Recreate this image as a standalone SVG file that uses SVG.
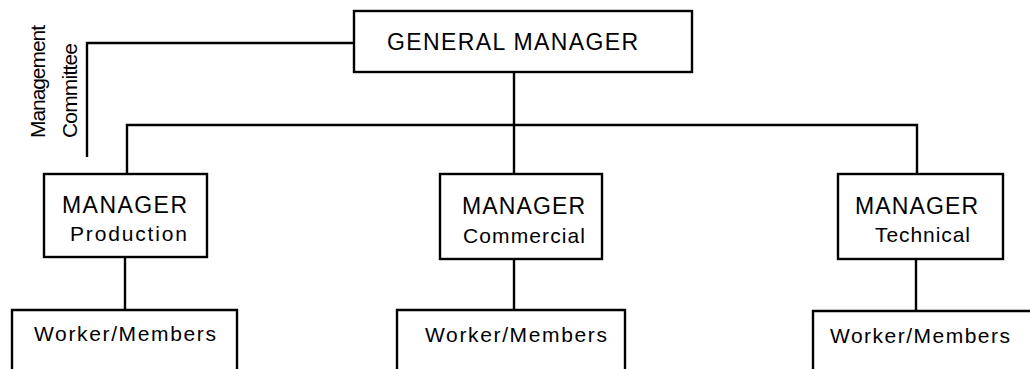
<svg xmlns="http://www.w3.org/2000/svg" width="1030" height="369" viewBox="0 0 1030 369">
  <style>
    .box { fill: none; stroke: #000; stroke-width: 2.4; }
    .link { fill: none; stroke: #000; stroke-width: 2.4; }
    text { font-family: "Liberation Sans", Arial, sans-serif; fill: #000; }
    .title { font-size: 23px; text-anchor: middle; }
    .sub { font-size: 21px; text-anchor: middle; }
    .side { font-size: 21px; }
  </style>
  <rect width="1030" height="369" fill="#fff"/>

  <!-- connectors -->
  <g id="connectors">
    <path class="link" d="M354,43 H87 V157"/>
    <path class="link" d="M514,72 V174"/>
    <path class="link" d="M127,174 V125 H917 V174"/>
    <path class="link" d="M125,257 V310"/>
    <path class="link" d="M514,259 V310"/>
    <path class="link" d="M916,259 V311"/>
  </g>

  <!-- committee label beside the line -->
  <g id="committee-label">
    <text class="side" transform="translate(45,138) rotate(-90)" textLength="113" lengthAdjust="spacing">Management</text>
    <text class="side" transform="translate(77,138) rotate(-90)" textLength="95" lengthAdjust="spacing">Committee</text>
  </g>

  <g id="general-manager">
    <rect class="box" x="354" y="11" width="338" height="61"/>
    <text class="title" x="512.5" y="50" textLength="251" lengthAdjust="spacing">GENERAL MANAGER</text>
  </g>

  <g id="manager-production">
    <rect class="box" x="44" y="174" width="163" height="83"/>
    <text class="title" x="124.5" y="213" textLength="125" lengthAdjust="spacing">MANAGER</text>
    <text class="sub" x="128.5" y="241" textLength="117" lengthAdjust="spacing">Production</text>
  </g>

  <g id="manager-commercial">
    <rect class="box" x="440" y="174" width="162" height="85"/>
    <text class="title" x="523.5" y="214" textLength="123" lengthAdjust="spacing">MANAGER</text>
    <text class="sub" x="524" y="243" textLength="122" lengthAdjust="spacing">Commercial</text>
  </g>

  <g id="manager-technical">
    <rect class="box" x="838" y="174" width="165" height="85"/>
    <text class="title" x="916.5" y="214" textLength="123" lengthAdjust="spacing">MANAGER</text>
    <text class="sub" x="922.5" y="242" textLength="95" lengthAdjust="spacing">Technical</text>
  </g>

  <g id="workers-production">
    <path class="box" d="M12,369 V310 H237 V369"/>
    <text class="sub" x="125" y="341" textLength="182" lengthAdjust="spacing">Worker/Members</text>
  </g>

  <g id="workers-commercial">
    <path class="box" d="M397,369 V310 H625 V369"/>
    <text class="sub" x="516" y="342" textLength="182" lengthAdjust="spacing">Worker/Members</text>
  </g>

  <g id="workers-technical">
    <path class="box" d="M813,369 V311 H1032"/>
    <text class="sub" x="920" y="343" textLength="180" lengthAdjust="spacing">Worker/Members</text>
  </g>
</svg>
